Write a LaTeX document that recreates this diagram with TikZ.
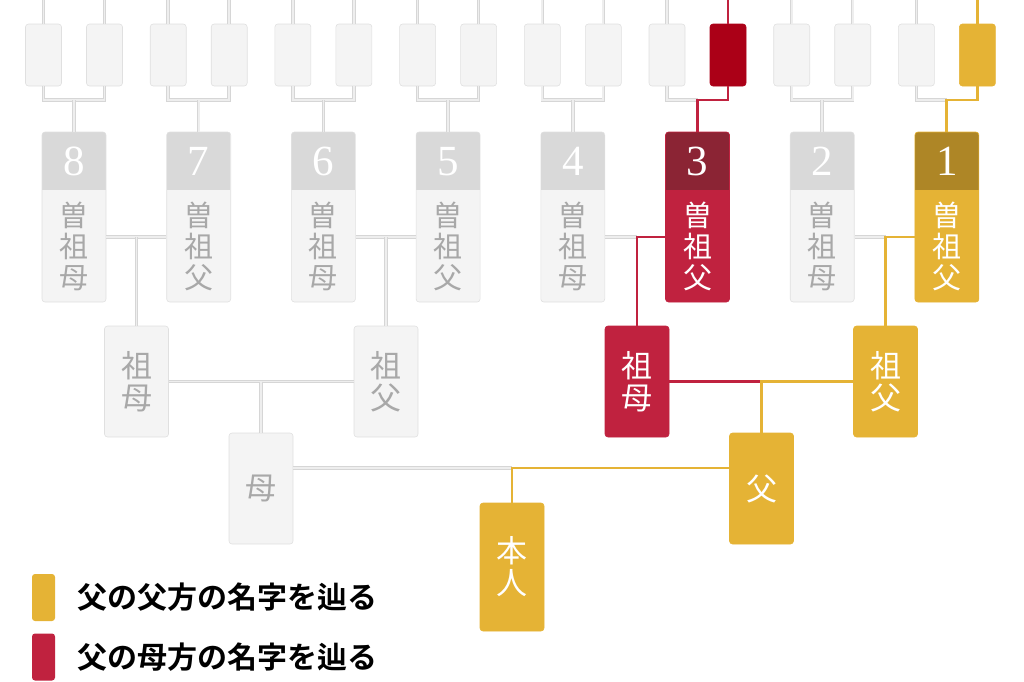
\documentclass[tikz,border=0pt]{standalone}
\usepackage{fontspec}
\setmainfont{Liberation Serif}
\newfontfamily\jpfont{Noto Sans CJK JP}[BoldFont={Noto Sans CJK JP Bold}]
\usetikzlibrary{positioning, calc}
\definecolor{boxgray}{HTML}{F4F4F4}
\definecolor{edgegray}{HTML}{E0E0E0}
\definecolor{headgray}{HTML}{D9D9D9}
\definecolor{txtgray}{HTML}{A8A8A8}
\definecolor{linegray}{HTML}{D6D6D6}
\definecolor{lineinner}{HTML}{EEEEEE}
\definecolor{crimson}{HTML}{C0223F}
\definecolor{wine}{HTML}{8B2434}
\definecolor{ruby}{HTML}{AB0017}
\definecolor{gold}{HTML}{E5B335}
\definecolor{ochre}{HTML}{AE8626}

\begin{document}
\begin{tikzpicture}[x=1pt, y=-1pt,
  tipgray/.style={draw=edgegray, fill=boxgray, rounded corners=3pt, minimum width=36pt,
    minimum height=62pt, inner sep=0pt, line width=0.6pt},
  tipred/.style={tipgray, draw=ruby, fill=ruby},
  tipgold/.style={tipgray, draw=gold, fill=gold},
  card/.style n args={3}{draw=#1, fill=#2, rounded corners=3pt, minimum width=64pt,
    minimum height=170pt, inner sep=0pt, line width=0.6pt,
    path picture={\fill[#3, sharp corners] (path picture bounding box.north west)
      rectangle ([yshift=-58pt]path picture bounding box.north east);}},
  cardgray/.style={card={edgegray}{boxgray}{headgray}},
  cardred/.style={card={crimson}{crimson}{wine}},
  cardgold/.style={card={gold}{gold}{ochre}},
  kin/.style={draw=#1, fill=#1, rounded corners=3pt, minimum width=64pt, minimum height=111pt,
    inner sep=0pt, line width=0.6pt, align=center, text=white,
    font=\jpfont\fontsize{31}{32}\selectfont},
  kingray/.style={kin=edgegray, fill=boxgray, text=txtgray},
  numtxt/.style={text=white, font=\fontsize{43}{43}\selectfont, inner sep=0pt},
  lbltxt/.style={align=center, inner sep=0pt, font=\jpfont\fontsize{29}{31}\selectfont},
  grayline/.style={draw=linegray, line width=0.9pt, double=lineinner, double distance=1.7pt},
  redline/.style={draw=crimson, line width=2.9pt},
  goldline/.style={draw=gold, line width=2.9pt},
  swatch/.style={rounded corners=3pt, minimum width=23pt, minimum height=47pt, inner sep=0pt},
  keytxt/.style={inner sep=0pt, font=\jpfont\bfseries\fontsize{30}{34}\selectfont}]

\useasboundingbox (0,0) rectangle (1024,681);
\coordinate (top) at (0,0);

% Great-great-grandparents (top row)
\foreach \k/\x/\tb in {8/74/tipgray, 7/198.7/tipgray, 6/323.4/tipgray, 5/448.1/tipgray,
    4/572.8/tipgray, 3/697.5/tipred, 2/822.2/tipgray, 1/946.9/tipgold} {
  \node[tipgray] (a\k) at (\x-30.5,55) {};
  \node[\tb] (b\k) at (\x+30.5,55) {};
}

% Great-grandparents with numbers
\foreach \k/\x/\who/\st/\ink in {8/74/母/cardgray/txtgray, 7/198.7/父/cardgray/txtgray,
    6/323.4/母/cardgray/txtgray, 5/448.1/父/cardgray/txtgray, 4/572.8/母/cardgray/txtgray,
    3/697.5/父/cardred/white, 2/822.2/母/cardgray/txtgray, 1/946.9/父/cardgold/white} {
  \node[\st] (g\k) at (\x,217) {};
  \node[numtxt] (n\k) at ([yshift=-30pt]g\k.north) {\k};
  \node[lbltxt, text=\ink] (l\k) at ([yshift=-115pt]g\k.north) {曽\\祖\\\who};
}

% Grandparents
\node[kingray] (mm) at (136.5,381.5) {祖\\母};
\node[kingray] (mf) at (386,381.5) {祖\\父};
\node[kin=crimson] (fm) at (637,381.5) {祖\\母};
\node[kin=gold] (ff) at (885.5,381.5) {祖\\父};

% Parents and self
\node[kingray] (mo) at (261,488.5) {母};
\node[kin=gold] (fa) at (761.5,488.5) {父};
\node[kin=gold, minimum height=128pt] (me) at (512,567) {本\\人};

% Top row connectors
\foreach \k in {8,7,6,5,4,2} {
  \coordinate (t\k) at (g\k.north |- 0,100);
  \draw[grayline] (a\k.north) -- (a\k.north |- top);
  \draw[grayline] (b\k.north) -- (b\k.north |- top);
  \draw[grayline] (a\k.south) |- (t\k) -| (b\k.south);
  \draw[grayline] (t\k) -- (g\k.north);
}
\coordinate (t3) at (g3.north |- 0,100);
\draw[grayline] (a3.north) -- (a3.north |- top);
\draw[grayline] (a3.south) |- (t3);
\draw[redline] (b3.north) -- (b3.north |- top);
\draw[redline] (b3.south) |- (t3) -- (g3.north);
\coordinate (t1) at (g1.north |- 0,100);
\draw[grayline] (a1.north) -- (a1.north |- top);
\draw[grayline] (a1.south) |- (t1);
\draw[goldline] (b1.north) -- (b1.north |- top);
\draw[goldline] (b1.south) |- (t1) -- (g1.north);

% Great-grandparents to grandparents
\coordinate (u1) at (mm.north |- 0,237);
\coordinate (u2) at (mf.north |- 0,237);
\coordinate (u3) at (fm.north |- 0,237);
\coordinate (u4) at (ff.north |- 0,237);
\draw[grayline] (g8.east |- u1) -- (g7.west |- u1);
\draw[grayline] (u1) -- (mm.north);
\draw[grayline] (g6.east |- u2) -- (g5.west |- u2);
\draw[grayline] (u2) -- (mf.north);
\draw[grayline] (g4.east |- u3) -- (u3);
\draw[redline] (g3.west |- u3) -| (fm.north);
\draw[grayline] (g2.east |- u4) -- (u4);
\draw[goldline] (g1.west |- u4) -| (ff.north);

% Grandparents to parents
\coordinate (v1) at (mo.north |- mm.east);
\coordinate (v2) at (fa.north |- fm.east);
\draw[grayline] (mm.east) -- (mf.west);
\draw[grayline] (v1) -- (mo.north);
\draw[redline] (fm.east) -- (v2);
\draw[goldline] (ff.west) -- (v2) -- (fa.north);

% Parents to self
\coordinate (w) at (me.north |- 0,468);
\draw[grayline] (mo.east |- w) -- (w);
\draw[goldline] (fa.west |- w) -| (me.north);

% Legend
\node[swatch, fill=gold] (key1) at (43.5,597.5) {};
\node[swatch, fill=crimson] (key2) at (43.5,657) {};
\node[keytxt, right=22pt of key1] (txt1) {父の父方の名字を辿る};
\node[keytxt, right=22pt of key2] (txt2) {父の母方の名字を辿る};

\end{tikzpicture}
\end{document}
